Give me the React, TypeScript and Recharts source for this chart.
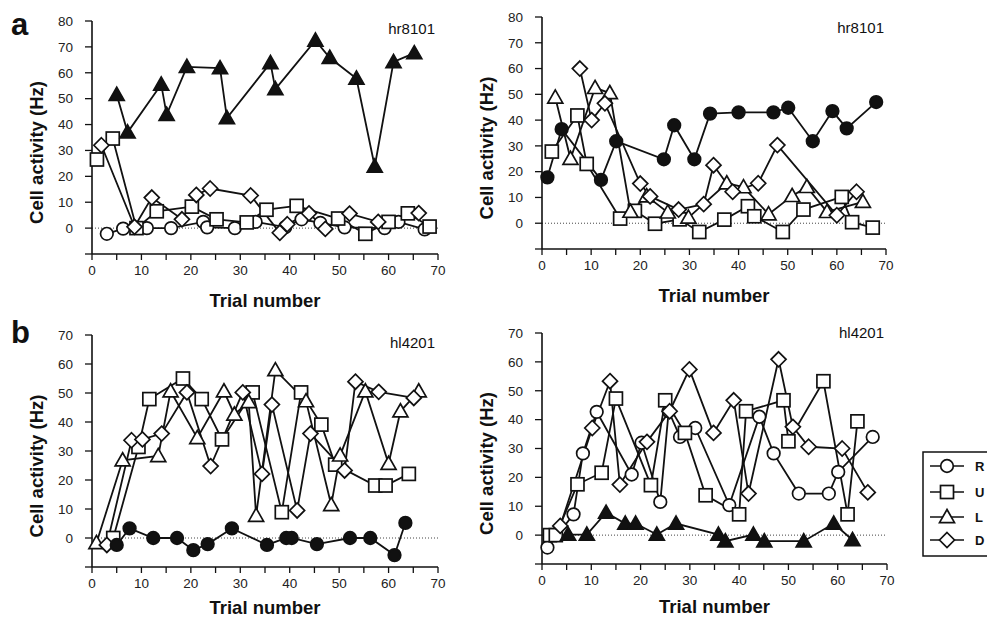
import { LineChart, Line, XAxis, YAxis, ReferenceLine } from 'recharts';

type Pt = [number, number];

// panel a, left (hr8101) – L is the filled series
const aLeftR: Pt[] = [[3, -2.2], [6.3, -0.2], [11.1, 0], [16, 0], [22.5, 2.4], [23.3, 0.3], [28.9, 0], [33.1, 2.4], [39.1, 0.4], [42.4, 3.4], [46.2, 2], [51.1, 0.3], [59.2, 0], [62, 2.4], [67.3, -0.5]];
const aLeftU: Pt[] = [[1, 26.5], [4.2, 34.6], [9, 0], [13.1, 6.5], [20.2, 8.3], [25.2, 3.4], [31.3, 2.2], [35.3, 7.1], [41.4, 8.6], [49.8, 3.7], [55.3, -2.2], [60, 2.4], [63.9, 5.7], [68.3, 0.6]];
const aLeftL: Pt[] = [[5, 51.5], [7.2, 37], [14, 55.5], [15.1, 43.8], [19.2, 62.3], [25.9, 61.8], [27.3, 42.5], [36.1, 63.8], [37.1, 53.7], [45.2, 72.5], [48.1, 65.8], [53.5, 57.8], [57.2, 23.8], [61, 64.2], [65.2, 67.6]];
const aLeftD: Pt[] = [[1.9, 32], [8.6, 0.5], [12.1, 11.8], [18.2, 3.4], [21.1, 12.8], [23.9, 15.3], [32.1, 12.6], [38, -1.8], [39.5, 1.5], [43.9, 5.7], [47.2, -0.3], [52.1, 5.6], [57.9, 2.4], [66.1, 5.8]];

// panel a, right (hr8101) – R is the filled series
const aRightR: Pt[] = [[1.1, 17.8], [4, 36.5], [12, 16.8], [15.1, 31.8], [24.8, 24.8], [26.9, 38], [31, 24.8], [34.2, 42.5], [40, 43], [47.1, 43], [50.1, 44.8], [55.1, 31.8], [59.1, 43.5], [62, 36.8], [68, 47]];
const aRightU: Pt[] = [[2, 27.8], [7.2, 41.8], [9.1, 23], [15.9, 1.8], [18.9, 4.8], [23, -0.2], [28, 1.5], [32, -3.4], [37.1, 1.4], [41.9, 6.6], [43.2, 2.7], [49, -3.4], [53.2, 5.3], [61, 10.2], [63.1, 0.4], [67.3, -1.7]];
const aRightL: Pt[] = [[2.7, 48.8], [5.8, 25], [10.8, 52.5], [13.8, 50.5], [18, 4.5], [21.3, 10.5], [25.6, 4.2], [29.8, 2.2], [37.6, 15.5], [41, 14], [46.1, 3.5], [50.9, 10.6], [53.9, 14.1], [58, 4.4], [65.3, 8.3]];
const aRightD: Pt[] = [[7.7, 60], [10.1, 40], [12.8, 46.5], [20, 15.4], [22, 10.4], [27.8, 5.3], [32.9, 7.4], [34.9, 22.5], [38.8, 12.2], [44, 15.5], [47.9, 30.3], [60, 3.1], [64, 12.2]];

// panel b, left (hl4201) – R is the filled series
const bLeftR: Pt[] = [[5, -2.4], [7.6, 3.3], [12.4, 0], [17.2, 0], [20.5, -4.2], [23.4, -2.1], [28.3, 3.3], [35.4, -2.4], [39.3, 0], [40.4, 0], [45.5, -2.1], [52.2, 0], [56.3, 0], [61.2, -5.9], [63.4, 5.2]];
const bLeftU: Pt[] = [[4.3, 0], [9.4, 31.4], [11.6, 47.9], [18.4, 55], [22.2, 47.9], [26.3, 34], [32.5, 50.2], [38.4, 8.9], [42.3, 50.2], [46.4, 39.1], [49.2, 25.3], [57.3, 18.1], [59.4, 18.1], [64.1, 22.1]];
const bLeftL: Pt[] = [[0.9, -1.7], [6.2, 26.8], [13.4, 28.3], [15.9, 50.6], [21.3, 34.5], [26.7, 50.6], [28.8, 42.6], [31.7, 46.9], [33.2, 7.7], [37.1, 57.9], [43.3, 47.2], [48.4, 11.4], [50.2, 28.5], [55.3, 50.6], [60, 25.6], [62.4, 43.7], [66.1, 50.6]];
const bLeftD: Pt[] = [[3, -2.4], [8, 33.7], [10.2, 34], [14.1, 36], [19.2, 50.2], [24, 24.8], [30.5, 50.2], [34.4, 22.1], [36.4, 46], [41.5, 9.5], [44.2, 36], [51.1, 23.3], [53.3, 53.9], [58, 50.4], [65.1, 48.3]];

// panel b, right (hl4201) – L is the filled series
const bRightR: Pt[] = [[1.1, -4.3], [6.4, 7.2], [8.3, 28.3], [11.1, 42.7], [18.2, 21], [20.2, 32], [24, 11.5], [25.7, 42.9], [28, 34], [31.1, 37.1], [38, 10.4], [44.1, 41], [47, 28.3], [52.1, 14.4], [58.2, 14.4], [60.1, 21.9], [67.1, 34]];
const bRightU: Pt[] = [[1.6, 0], [2.8, 0], [7.2, 17.6], [12.1, 21.6], [15, 47.3], [22.1, 17.3], [25, 46.7], [29, 35.4], [33.2, 13.8], [40, 7.2], [41.4, 42.9], [49, 46.7], [50, 32.5], [57.1, 53.3], [62, 7.2], [64, 39.4]];
const bRightL: Pt[] = [[5.3, 0.2], [9.1, 0.2], [13, 7.8], [16.9, 4], [19, 4], [23.3, 0.2], [27.2, 4], [35.8, 0.2], [37.2, -2.1], [42.9, 0.2], [45.1, -2.1], [53.1, -2.1], [59.2, 4], [63, -1.7]];
const bRightD: Pt[] = [[3.7, 3.2], [10.2, 37.1], [13.8, 53.3], [15.8, 17.5], [21.3, 32.3], [25.9, 42.9], [29.9, 57.4], [34.8, 35.4], [38.9, 46.7], [41.9, 14.4], [48, 60.9], [50.9, 37.5], [54.1, 30.6], [60.9, 30], [66.1, 14.8]];

const xTicks = [0, 5, 10, 15, 20, 25, 30, 35, 40, 45, 50, 55, 60, 65, 70];
const yTicks80 = [-10, 0, 10, 20, 30, 40, 50, 60, 70, 80];
const yTicks70 = [-10, 0, 10, 20, 30, 40, 50, 60, 70];

const legendItems = [
  { shape: 'circle', label: 'R' },
  { shape: 'square', label: 'U' },
  { shape: 'triangle', label: 'L' },
  { shape: 'diamond', label: 'D' },
];

const INK = '#111';
const FONT = '"Liberation Sans", Arial, sans-serif';

const Marker = ({ cx, cy, shape, filled }: any) => {
  const p = { fill: filled ? INK : '#fff', stroke: INK, strokeWidth: 1.7 };
  if (shape === 'circle') return <circle cx={cx} cy={cy} r={6.3} {...p} />;
  if (shape === 'square') return <rect x={cx - 6.5} y={cy - 6.5} width={13} height={13} {...p} />;
  if (shape === 'triangle') {
    const s = 7.5;
    return <polygon points={`${cx},${cy - s} ${cx + s},${cy + s * 0.75} ${cx - s},${cy + s * 0.75}`} {...p} />;
  }
  const d = 7.5;
  return <polygon points={`${cx},${cy - d} ${cx + d},${cy} ${cx},${cy + d} ${cx - d},${cy}`} {...p} />;
};

const dotFor = (shape: string, filled: boolean) => (props: any) => {
  const { cx, cy, index } = props;
  if (cx == null || cy == null) return <g key={index} />;
  return <g key={index}><Marker cx={cx} cy={cy} shape={shape} filled={filled} /></g>;
};

const makeXTitle = (dy: number) => (p: any) => {
  const vb = p.viewBox;
  return (
    <text x={vb.x + vb.width / 2} y={vb.y + dy} textAnchor="middle" dominantBaseline="central"
      fontSize={18.5} fontWeight="bold" fill={INK} fontFamily={FONT}>Trial number</text>
  );
};

const YTitle = (p: any) => {
  const vb = p.viewBox;
  const x = vb.x + 14;
  const y = vb.y + vb.height / 2 + 15;
  return (
    <text x={x} y={y} transform={`rotate(-90 ${x} ${y})`} textAnchor="middle" dominantBaseline="central"
      fontSize={18.5} fontWeight="bold" fill={INK} fontFamily={FONT}>Cell activity (Hz)</text>
  );
};

type Series = { pts: Pt[]; shape: string; filled: boolean };

const Panel = ({ left, top, w, h, yMax, titleDy, series }: { left: number; top: number; w: number; h: number; yMax: number; titleDy: number; series: Series[] }) => {
  const yTicks = yMax === 80 ? yTicks80 : yTicks70;
  return (
    <div style={{ position: 'absolute', left: left - 70, top: top - 10 }}>
      <LineChart width={70 + w + 15} height={10 + h + 60} margin={{ top: 10, right: 15, left: 0, bottom: 0 }}>
        <XAxis type="number" dataKey="x" domain={[0, 70]} ticks={xTicks} interval={0} height={60}
          tickFormatter={(v: number) => (v % 10 === 0 ? String(v) : '')}
          tickSize={6} tickMargin={5}
          tick={{ fontSize: 13.5, fill: '#222', fontFamily: FONT }}
          axisLine={{ stroke: INK, strokeWidth: 1.6 }} tickLine={{ stroke: INK, strokeWidth: 1.3 }}
          label={{ content: makeXTitle(titleDy) }} />
        <YAxis type="number" domain={[-10, yMax]} ticks={yTicks} interval={0} width={70}
          tickFormatter={(v: number) => (v === -10 ? '' : String(v))}
          tickSize={7} tickMargin={12}
          tick={{ fontSize: 13.5, fill: '#222', fontFamily: FONT }}
          axisLine={{ stroke: INK, strokeWidth: 1.6 }} tickLine={{ stroke: INK, strokeWidth: 1.3 }}
          label={{ content: YTitle }} />
        <ReferenceLine y={0} stroke="#444" strokeDasharray="1 2" strokeWidth={1} />
        {series.map((s, i) => (
          <Line key={i} data={s.pts.map(([x, y]) => ({ x, y }))} dataKey="y" type="linear"
            stroke={INK} strokeWidth={1.8} dot={dotFor(s.shape, s.filled)} activeDot={false}
            isAnimationActive={false} />
        ))}
      </LineChart>
    </div>
  );
};

const App = () => {
  return (
    <div style={{ position: 'absolute', left: 0, top: 0, width: 987, height: 619, background: '#fff', fontFamily: FONT, overflow: 'hidden' }}>
      <Panel left={92} top={21} w={346} h={233} yMax={80} titleDy={46} series={[
        { pts: aLeftR, shape: 'circle', filled: false },
        { pts: aLeftU, shape: 'square', filled: false },
        { pts: aLeftD, shape: 'diamond', filled: false },
        { pts: aLeftL, shape: 'triangle', filled: true },
      ]} />
      <Panel left={542} top={17} w={344} h={232} yMax={80} titleDy={46} series={[
        { pts: aRightU, shape: 'square', filled: false },
        { pts: aRightL, shape: 'triangle', filled: false },
        { pts: aRightD, shape: 'diamond', filled: false },
        { pts: aRightR, shape: 'circle', filled: true },
      ]} />
      <Panel left={92} top={335} w={346} h={232} yMax={70} titleDy={40} series={[
        { pts: bLeftU, shape: 'square', filled: false },
        { pts: bLeftL, shape: 'triangle', filled: false },
        { pts: bLeftD, shape: 'diamond', filled: false },
        { pts: bLeftR, shape: 'circle', filled: true },
      ]} />
      <Panel left={542} top={333} w={345} h={231} yMax={70} titleDy={42} series={[
        { pts: bRightR, shape: 'circle', filled: false },
        { pts: bRightU, shape: 'square', filled: false },
        { pts: bRightD, shape: 'diamond', filled: false },
        { pts: bRightL, shape: 'triangle', filled: true },
      ]} />
      <svg width={987} height={619} style={{ position: 'absolute', left: 0, top: 0, pointerEvents: 'none' }}>
        <text x={11} y={35} fontSize={31} fontWeight="bold" fill={INK} fontFamily={FONT}>a</text>
        <text x={11} y={343} fontSize={31} fontWeight="bold" fill={INK} fontFamily={FONT}>b</text>
        <text x={435} y={34} textAnchor="end" fontSize={15} fill={INK} fontFamily={FONT}>hr8101</text>
        <text x={884} y={33} textAnchor="end" fontSize={15} fill={INK} fontFamily={FONT}>hr8101</text>
        <text x={435} y={348} textAnchor="end" fontSize={15} fill={INK} fontFamily={FONT}>hl4201</text>
        <text x={884} y={338} textAnchor="end" fontSize={15} fill={INK} fontFamily={FONT}>hl4201</text>
        <rect x={923} y={452} width={90} height={104} fill="none" stroke={INK} strokeWidth={1.5} />
        {legendItems.map((it, i) => {
          const y = [466, 492, 517, 540][i];
          return (
            <g key={it.label}>
              <line x1={930} x2={964} y1={y} y2={y} stroke={INK} strokeWidth={1.5} />
              <Marker cx={947} cy={y} shape={it.shape} filled={false} />
              <text x={975} y={y + 5} fontSize={13} fontWeight="bold" fill={INK} fontFamily={FONT}>{it.label}</text>
            </g>
          );
        })}
      </svg>
    </div>
  );
};

export default App;
